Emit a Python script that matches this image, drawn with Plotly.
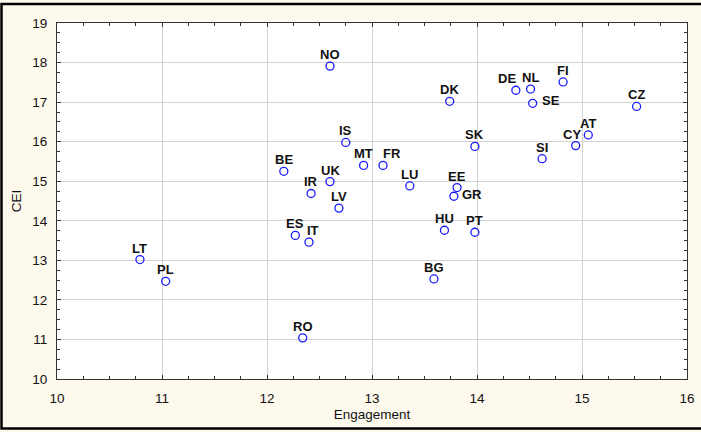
import plotly.graph_objects as go

countries = ["NO", "IS", "BE", "UK", "IR", "LV", "DK", "DE", "NL", "SE", "FI", "CZ",
             "AT", "CY", "SI", "SK", "MT", "FR", "LU", "EE", "GR", "ES", "IT", "LT",
             "PL", "RO", "HU", "PT", "BG"]
engagement = [12.60, 12.75, 12.16, 12.60, 12.42, 12.685, 13.74, 14.37, 14.51, 14.53, 14.82, 15.52,
              15.06, 14.94, 14.62, 13.98, 12.92, 13.105, 13.36, 13.81, 13.78, 12.27, 12.40, 10.79,
              11.035, 12.34, 13.69, 13.98, 13.59]
cei = [17.91, 15.98, 15.25, 14.99, 14.69, 14.32, 17.02, 17.30, 17.33, 16.97, 17.51, 16.89,
       16.17, 15.90, 15.57, 15.88, 15.40, 15.40, 14.88, 14.84, 14.62, 13.63, 13.46, 13.02,
       12.47, 11.04, 13.76, 13.71, 12.53]

# label placement style (pixel offsets relative to the marker)
label_style = {
    "DE": dict(xshift=-9, yshift=11.5, xanchor="center"),
    "FR": dict(xshift=9, yshift=11.5, xanchor="center"),
    "IT": dict(xshift=4, yshift=11.5, xanchor="center"),
    "CY": dict(xshift=-4, yshift=11.5, xanchor="center"),
    "SE": dict(xshift=7, yshift=2.5, xanchor="left"),
    "GR": dict(xshift=6.5, yshift=1.5, xanchor="left"),
}
default_style = dict(xshift=0, yshift=11.5, xanchor="center")

FONT = "Liberation Sans, Arial, sans-serif"
W, H = 701, 432
ML, MR, MT, MB = 57, 14, 23, 53
PW, PH = W - ML - MR, H - MT - MB

fig = go.Figure()
fig.add_trace(go.Scatter(
    x=engagement, y=cei, mode="markers",
    marker=dict(symbol="circle-open", size=8, color="#1a1aff", line=dict(width=1.3, color="#1a1aff")),
    cliponaxis=False, showlegend=False, hoverinfo="text", text=countries,
))

for c, xv, yv in zip(countries, engagement, cei):
    st = label_style.get(c, default_style)
    fig.add_annotation(x=xv, y=yv, text=c, showarrow=False, yanchor="middle",
                       font=dict(family=FONT, size=13, color="#111111", weight="bold"),
                       **st)

axis_common = dict(
    showline=True, linecolor="#333333", linewidth=1, mirror="ticks",
    showgrid=True, gridcolor="#d2d2d2", gridwidth=1,
    ticks="inside", ticklen=4, tickcolor="#333333", dtick=1,
    minor=dict(ticks="inside", ticklen=3, dtick=0.25, tickcolor="#333333", showgrid=False),
    zeroline=False, automargin=False,
    tickfont=dict(family=FONT, size=13.5, color="#111111"),
)

fig.update_xaxes(range=[10, 16], tick0=10, ticklabelstandoff=7,
                 title=dict(text="Engagement", standoff=4, font=dict(family=FONT, size=13.5, color="#111111")),
                 **axis_common)
fig.update_yaxes(range=[10, 19], tick0=10, ticklabelstandoff=6,
                 title=dict(text="CEI", standoff=7, font=dict(family=FONT, size=13.5, color="#111111")),
                 **axis_common)

# outer frame around the whole figure
fig.add_shape(type="rect", xref="paper", yref="paper",
              x0=(1.5 - ML) / PW, x1=(W + 3 - ML) / PW,
              y0=(H - 428.5 - MB) / PH, y1=(H - 4 - MB) / PH,
              line=dict(color="#000000", width=2.5), fillcolor="rgba(0,0,0,0)", layer="above")

fig.update_layout(
    width=W, height=H,
    margin=dict(l=ML, r=MR, t=MT, b=MB, autoexpand=False),
    paper_bgcolor="#fef9ed", plot_bgcolor="#ffffff",
    font=dict(family=FONT),
)

fig.write_html("out.html", config={"displayModeBar": False},
               post_script="document.body.style.margin='0px';")
